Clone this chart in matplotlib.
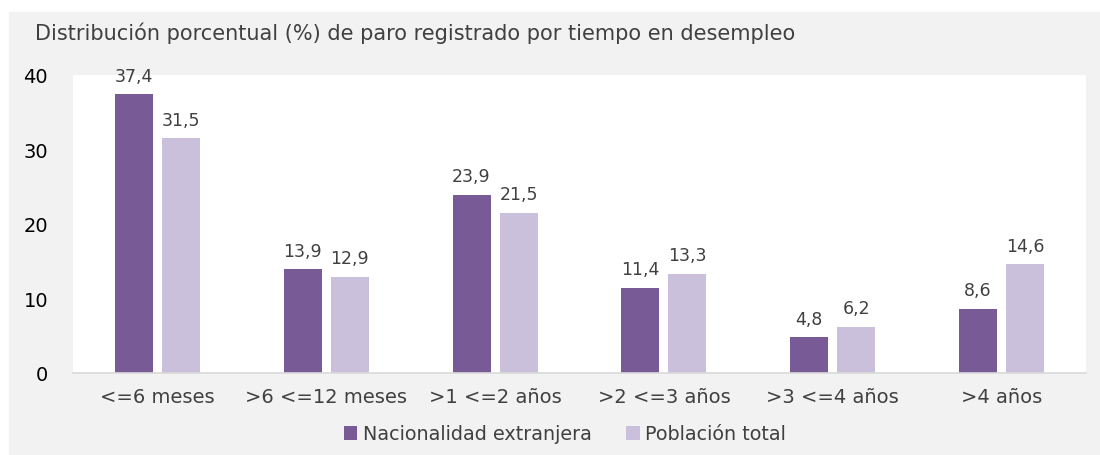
import matplotlib.pyplot as plt
import numpy as np

plt.rcParams['font.family'] = ['DejaVu Sans']

categorias = ['<=6 meses', '>6 <=12 meses', '>1 <=2 años', '>2 <=3 años', '>3 <=4 años', '>4 años']
extranjera = [37.4, 13.9, 23.9, 11.4, 4.8, 8.6]
total = [31.5, 12.9, 21.5, 13.3, 6.2, 14.6]
yticks = [0, 10, 20, 30, 40]

col_ext = '#785a96'
col_tot = '#cbc0dc'
fondo = '#f2f2f2'
texto = '#404040'

fig = plt.figure(figsize=(11, 4.56), dpi=100)
# gray panel behind the chart
fig.patches.append(plt.Rectangle((9 / 1100, 0), 1 - 9 / 1100, 1 - 13 / 456,
                                 transform=fig.transFigure, color=fondo, zorder=-1))
ax = fig.add_axes([73 / 1100, (456 - 374) / 456, (1086 - 73) / 1100, (374 - 76) / 456])
ax.set_facecolor('white')

x = np.arange(len(categorias))
w = 0.225
sep = 0.027
b1 = ax.bar(x - w / 2 - sep, extranjera, w, color=col_ext, label='Nacionalidad extranjera')
b2 = ax.bar(x + w / 2 + sep, total, w, color=col_tot, label='Población total')

for bars, vals in ((b1, extranjera), (b2, total)):
    for b, v in zip(bars, vals):
        ax.text(b.get_x() + b.get_width() / 2, v + 1.3, f'{v:.1f}'.replace('.', ','),
                ha='center', va='bottom', fontsize=12.5, color=texto)

ax.set_xlim(-0.5, len(categorias) - 0.5)
ax.set_ylim(0, 40)
ax.set_yticks(yticks)
ax.set_xticks(x)
ax.set_xticklabels(categorias)
ax.tick_params(axis='both', length=0, labelsize=14, colors='black')
ax.tick_params(axis='x', pad=10, colors=texto)
ax.tick_params(axis='y', pad=18)
for s in ['top', 'right', 'left']:
    ax.spines[s].set_visible(False)
ax.spines['bottom'].set_color('#d9d9d9')
ax.spines['bottom'].set_linewidth(1.2)

fig.text(35 / 1100, 1 - 33 / 456, 'Distribución porcentual (%) de paro registrado por tiempo en desempleo',
         fontsize=15, color=texto, va='center', ha='left')

fig.legend(loc='center', bbox_to_anchor=(565 / 1100, 1 - 435 / 456), ncol=2, frameon=False,
           fontsize=13.8, handlelength=0.7, handleheight=0.7, handletextpad=0.3,
           columnspacing=1.8, labelcolor=texto)

fig.savefig('out.png', dpi=100, facecolor='white')
